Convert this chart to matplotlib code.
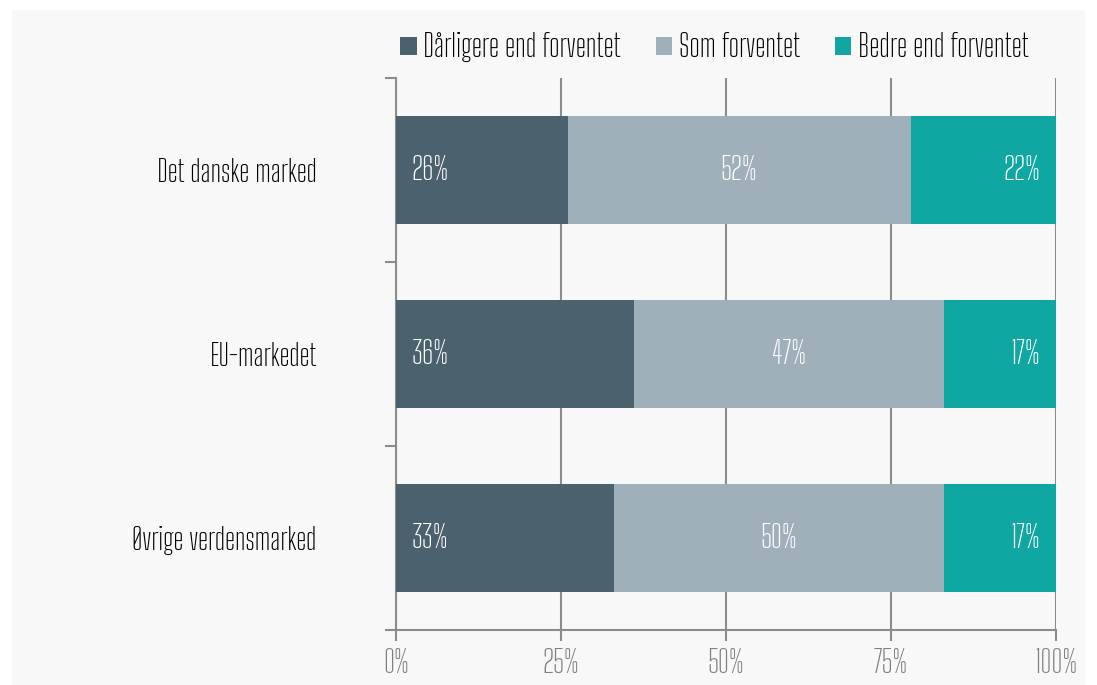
"""Stacked horizontal bar chart: forventninger pr. marked."""
import matplotlib.pyplot as plt
import numpy as np

# data
categories = ["Det danske marked", "EU-markedet", "Øvrige verdensmarked"]
series_names = ["Dårligere end forventet", "Som forventet", "Bedre end forventet"]
darligere = [26, 36, 33]
som = [52, 47, 50]
bedre = [22, 17, 17]
x_ticks = [0, 25, 50, 75, 100]
x_tick_labels = ["0%", "25%", "50%", "75%", "100%"]

colors = ["#4b616d", "#a0b0bb", "#10a7a2"]


def main():
    plt.rcParams["font.family"] = ["Big Shoulders Text", "DejaVu Sans"]
    plt.rcParams["font.weight"] = "medium"

    fig = plt.figure(figsize=(10.97, 6.85), dpi=100)
    fig.patch.set_facecolor("white")
    # light panel behind chart
    bg = fig.add_axes([12 / 1097, 0, 1073 / 1097, 1 - 10 / 685], zorder=-10)
    bg.axis("off")
    bg.add_patch(plt.Rectangle((0, 0), 1, 1, transform=bg.transAxes,
                               facecolor="#f8f8f8", edgecolor="none"))

    ax = fig.add_axes([396 / 1097, 1 - 630 / 685, 660 / 1097, 552 / 685])
    ax.set_facecolor("none")

    ypos = np.arange(len(categories))
    data = [darligere, som, bedre]
    left = np.zeros(len(categories))
    for i, vals in enumerate(data):
        vals = np.array(vals, dtype=float)
        ax.barh(ypos, vals, left=left, height=0.59, color=colors[i],
                label=series_names[i], zorder=3)
        for y, l, v in zip(ypos, left, vals):
            if i == 0:
                x, ha = l + 2.4, "left"
            elif i == 1:
                x, ha = l + v / 2, "center"
            else:
                x, ha = l + v - 2.4, "right"
            ax.text(x, y, f"{v:.0f}%", ha=ha, va="center",
                    color="white", fontsize=23, zorder=4)
        left = left + vals

    ax.set_xlim(0, 100)
    ax.set_ylim(len(categories) - 0.5, -0.5)
    ax.set_xticks(x_ticks)
    ax.set_xticklabels(x_tick_labels, color="#808080", fontsize=23)
    ax.set_yticks(ypos)
    ax.set_yticklabels(categories, fontsize=21.5, color="black")
    ax.set_yticks([-0.5, 0.5, 1.5, 2.5], minor=True)
    ax.tick_params(axis="y", which="major", length=0, pad=57)
    ax.tick_params(axis="y", which="minor", length=8, width=1.5,
                   color="#8c8c8c")
    ax.tick_params(axis="x", length=8, width=1.5, color="#8c8c8c", pad=5)
    ax.grid(axis="x", color="#8c8c8c", linewidth=1.5, zorder=1)
    for s in ["top", "right"]:
        ax.spines[s].set_visible(False)
    for s in ["left", "bottom"]:
        ax.spines[s].set_color("#8c8c8c")
        ax.spines[s].set_linewidth(1.5)

    ax.legend(loc="center", bbox_to_anchor=(0.482, 1.056), ncol=3,
              frameon=False, fontsize=22, handlelength=0.55,
              handleheight=0.55, handletextpad=0.2, columnspacing=1.15,
              borderpad=0, borderaxespad=0)

    fig.savefig("out.png", dpi=100)


if __name__ == "__main__":
    main()
